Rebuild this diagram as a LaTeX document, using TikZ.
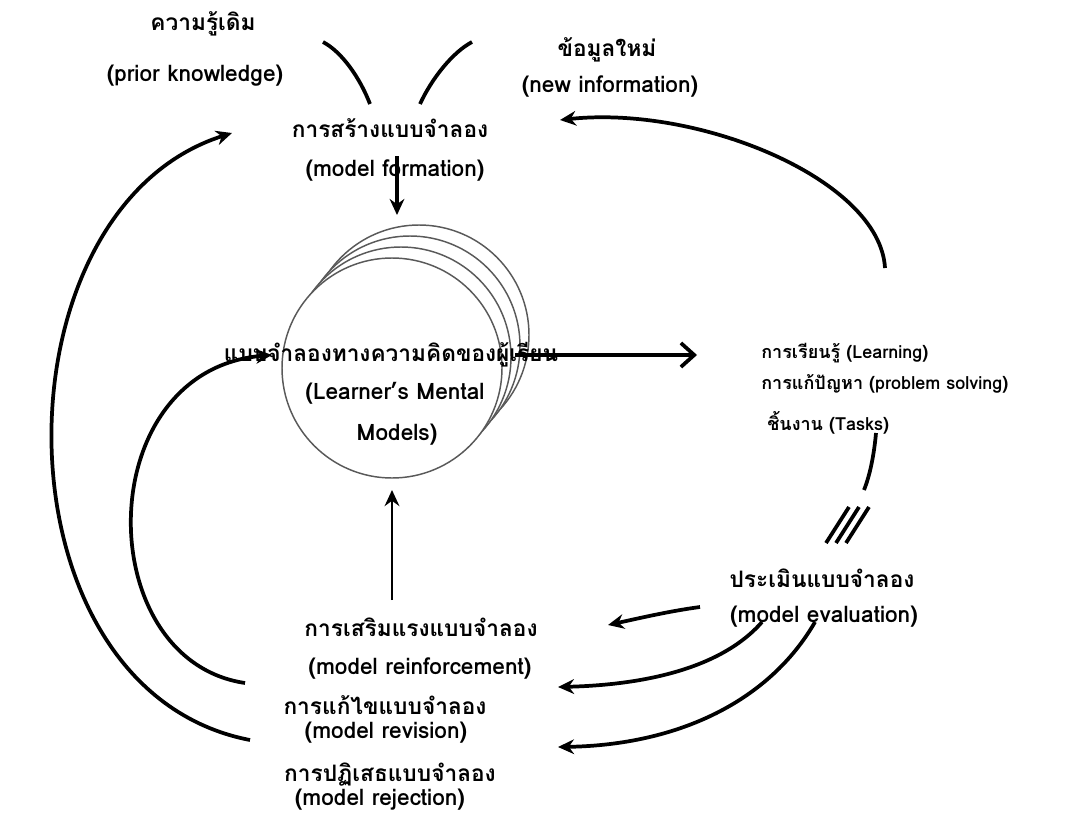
\documentclass[tikz,border=0pt]{standalone}
\usepackage{fontspec}
\setmainfont[Script=Thai]{Loma}
\usetikzlibrary{arrows.meta}

\tikzset{
  lbl/.style={inner sep=0.75pt, font=\bfseries\fontsize{17}{20}\selectfont},
  sml/.style={inner sep=0.75pt, anchor=west, font=\bfseries\fontsize{13.5}{16}\selectfont},
  flow/.style={line width=2.8pt, -{Stealth[length=12pt,width=11pt]}},
  bare/.style={line width=2.8pt},
  ring/.style={draw=black!65, line width=1.1pt, fill=white}
}

\begin{document}
\begin{tikzpicture}[x=0.75pt,y=0.75pt,yscale=-1]
\useasboundingbox (0,0) rectangle (1084,817);

%Shape: Circles (mental models)
\foreach \i in {3,2,1}
  \draw [ring] (392+9*\i,368-11*\i) circle (110);
\node (mind) [ring, circle, minimum size=165pt] at (392,368) {};

% Text Node
\node (priorth) [lbl] at (203,24) {ความรู้เดิม};
\node (prioren) [lbl] at (195,76) {(prior knowledge)};
\node (newth) [lbl] at (607,50) {ข้อมูลใหม่};
\node (newen) [lbl] at (610,87) {(new information)};
\node (formth) [lbl] at (390,128) {การสร้างแบบจำลอง};
\node (formen) [lbl] at (395,170) {(model formation)};
\node (mindth) [lbl] at (391,355) {แบบจำลองทางความคิดของผู้เรียน};
\node (minden) [lbl] at (395,393) {(Learner’s Mental};
\node (mindmd) [lbl] at (397,435) {Models)};
\node (learn) [sml] at (760,353) {การเรียนรู้ (Learning)};
\node (solve) [sml] at (760,384) {การแก้ปัญหา (problem solving)};
\node (task) [sml] at (766,423) {ชิ้นงาน (Tasks)};
\node (evalth) [lbl] at (822,578) {ประเมินแบบจำลอง};
\node (evalen) [lbl] at (824,617) {(model evaluation)};
\node (reinth) [lbl] at (421,627) {การเสริมแรงแบบจำลอง};
\node (reinen) [lbl] at (420,668) {(model reinforcement)};
\node (revth) [lbl] at (385,705) {การแก้ไขแบบจำลอง};
\node (reven) [lbl] at (386,733) {(model revision)};
\node (rejth) [lbl] at (390,775) {การปฏิเสธแบบจำลอง};
\node (rejen) [lbl] at (380,800) {(model rejection)};

% Coordinates for free ends
\coordinate (pkA) at (323,42);   \coordinate (pkB) at (370,104);
\coordinate (niA) at (472,42);   \coordinate (niB) at (420,104);
\coordinate (fmA) at (397,156);  \coordinate (fmB) at (397,215);
\coordinate (mdA) at (515,355);  \coordinate (mdB) at (697,355);
\coordinate (tkA) at (885,268);  \coordinate (tkB) at (560,120);
\coordinate (evA) at (700,607);  \coordinate (evB) at (608,625);
\coordinate (evC) at (762,622);  \coordinate (evD) at (558,687);
\coordinate (evE) at (815,622);  \coordinate (evF) at (558,747);
\coordinate (rnA) at (392,600);  \coordinate (rnB) at (392,490);
\coordinate (rjA) at (250,740);  \coordinate (rjB) at (232,133);
\coordinate (rvA) at (245,683);  \coordinate (rvB) at (272,355);

%Curve Lines: inputs
\draw [bare] (pkA) .. controls (342,52) and (360,78) .. (pkB);
\draw [bare] (niA) .. controls (453,52) and (432,78) .. (niB);
\draw [flow] (fmA) -- (fmB);

%Straight Lines: to tasks
\draw [line width=2.8pt, -{Straight Barb[length=10pt,width=18pt]}] (mdA) -- (mdB);

%Curve Lines: back to new information
\draw [flow] (tkA) .. controls (880,180) and (700,105) .. (tkB);

%Curve Lines: tasks to evaluation (cut)
\draw [bare] (876,433) .. controls (874,455) and (870,475) .. (864,490);
\foreach \d in {0,10,20}
  \draw [bare] (849+\d,507) -- (826+\d,543);

%Curve Lines: evaluation outcomes
\draw [flow] (evA) .. controls (670,611) and (640,618) .. (evB);
\draw [flow] (evC) .. controls (720,670) and (640,685) .. (evD);
\draw [flow] (evE) .. controls (770,700) and (680,745) .. (evF);
\draw [line width=2.2pt, -{Stealth[length=12pt,width=11pt]}] (rnA) -- (rnB);

%Curve Lines: revision and rejection loops
\draw [flow] (rvA) .. controls (90,660) and (90,370) .. (rvB);
\draw [flow] (rjA) .. controls (-10,690) and (-10,210) .. (rjB);

\end{tikzpicture}
\end{document}
